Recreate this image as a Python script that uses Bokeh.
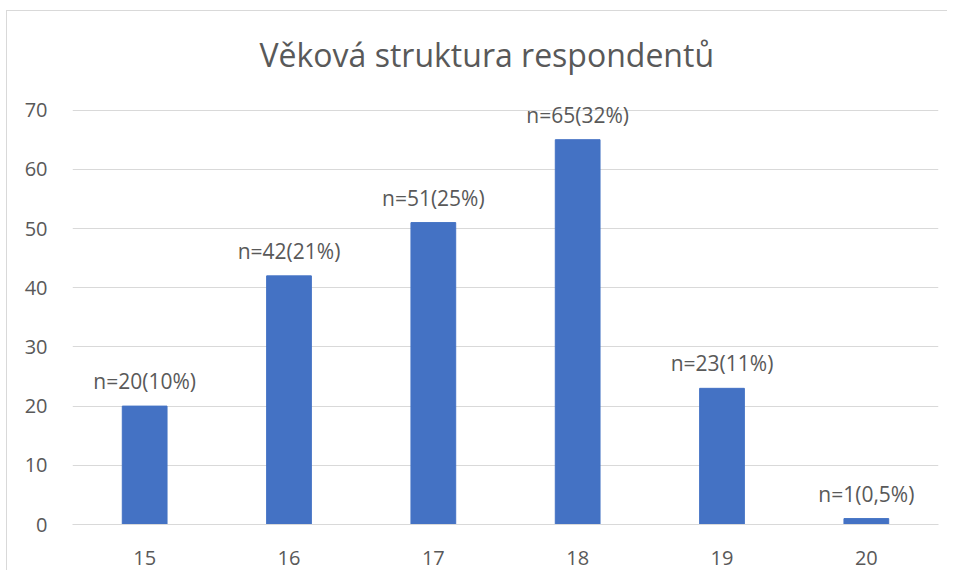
from bokeh.plotting import figure
from bokeh.models import Range1d, ColumnDataSource, FactorRange, InlineStyleSheet
from bokeh.embed import file_html
from bokeh.resources import INLINE
from bokeh.core.properties import value

categories = ["15", "16", "17", "18", "19", "20"]
counts = [20, 42, 51, 65, 23, 1]
labels = ["n=20(10%)", "n=42(21%)", "n=51(25%)", "n=65(32%)", "n=23(11%)", "n=1(0,5%)"]
y_ticks = [0, 10, 20, 30, 40, 50, 60, 70]
title_text = "Věková struktura respondentů"

FONT = "Open Sans"
TXT = "#595959"
GRID = "#d9d9d9"

src = ColumnDataSource(dict(x=categories, top=counts, label=labels))

p = figure(width=941, height=560, x_range=FactorRange(*categories),
           y_range=Range1d(0, 75), output_backend="svg", toolbar_location=None,
           min_border_left=65, min_border_right=10, min_border_bottom=47,
           min_border_top=69)
p.margin = (10, 0, 0, 6)
p.stylesheets = [InlineStyleSheet(css=":host { border-top: 1px solid #d9d9d9; border-left: 1px solid #d9d9d9; box-sizing: border-box; }")]
p.outline_line_color = None

p.title.text = title_text
p.title.align = "left"
p.title.offset = 187
p.title.text_font = FONT
p.title.text_font_size = "32px"
p.title.text_font_style = "normal"
p.title.text_color = TXT

p.vbar(x="x", top="top", width=0.31, source=src, color="#4472C4")
p.text(x="x", y="top", text="label", source=src, text_align="center",
       text_baseline="bottom", y_offset=-11, text_font=value(FONT),
       text_font_size="21px", text_color=TXT)

p.yaxis.ticker = y_ticks
p.yaxis.axis_line_color = None
p.yaxis.major_tick_line_color = None
p.yaxis.minor_tick_line_color = None
p.yaxis.major_label_standoff = 19
p.xaxis.axis_line_color = GRID
p.xaxis.axis_line_width = 1
p.xaxis.major_tick_line_color = None
p.xaxis.minor_tick_line_color = None
p.xaxis.major_label_standoff = 20
for ax in (p.xaxis, p.yaxis):
    ax.major_label_text_font = FONT
    ax.major_label_text_font_size = "20px"
    ax.major_label_text_color = TXT

p.xgrid.grid_line_color = None
p.ygrid.grid_line_color = GRID
p.ygrid.grid_line_width = 1

open("out.html", "w").write(file_html(p, INLINE))
